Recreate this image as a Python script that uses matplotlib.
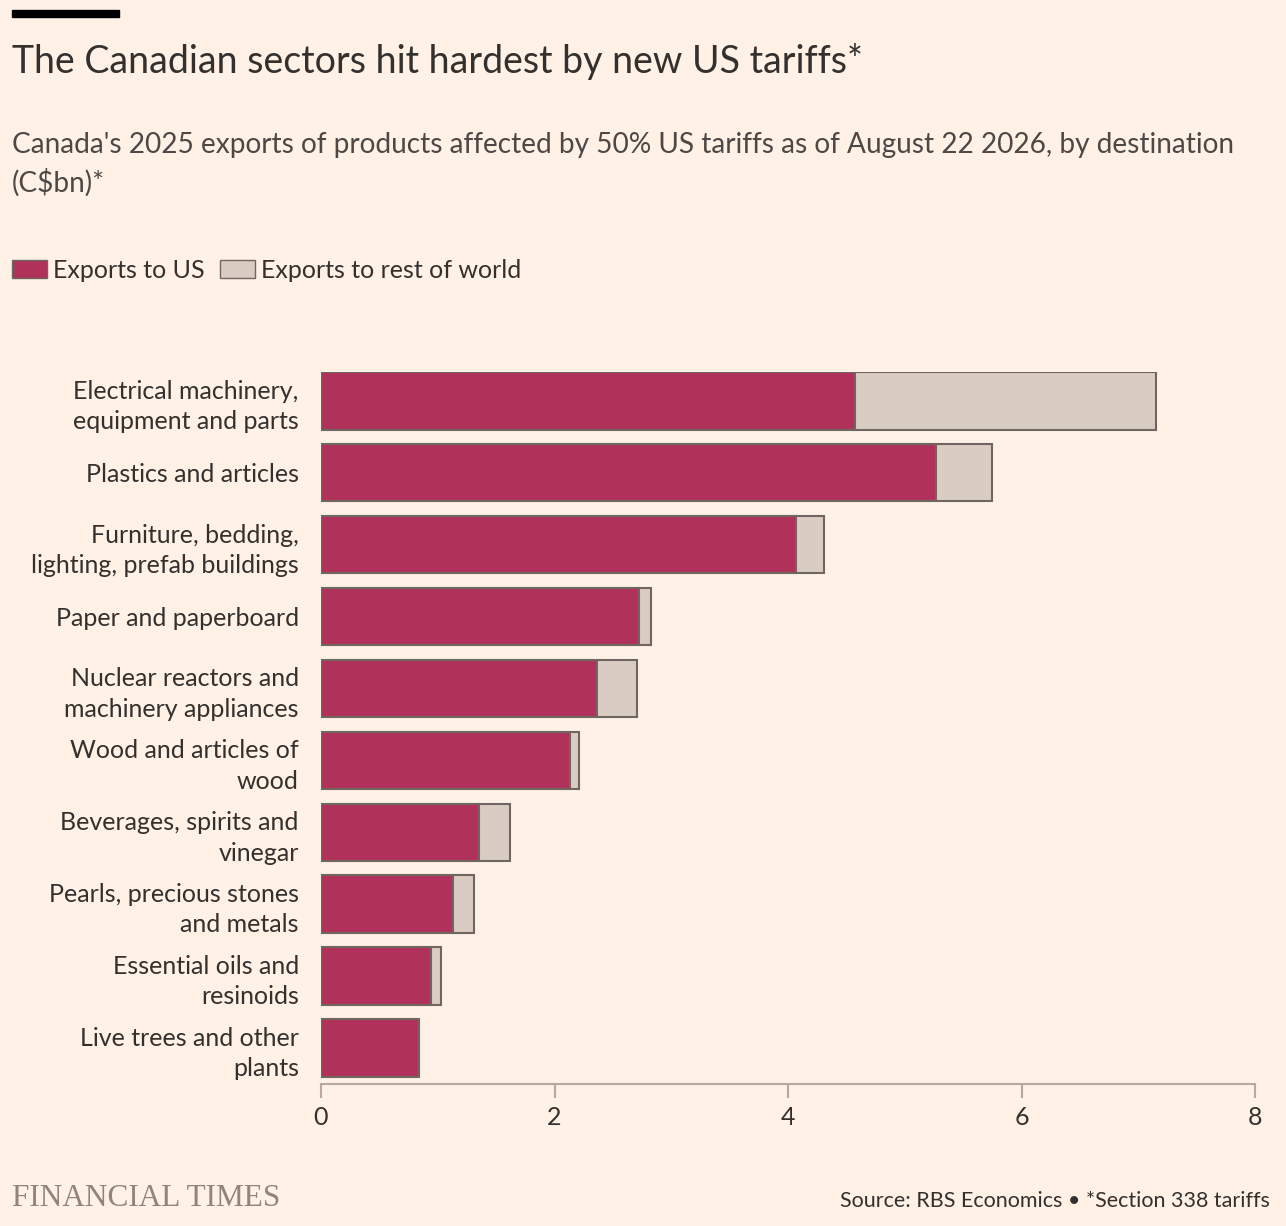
import matplotlib.pyplot as plt
from matplotlib.patches import Patch, Rectangle

# data (C$bn)
sectors = ["Electrical machinery,\nequipment and parts",
           "Plastics and articles",
           "Furniture, bedding,\nlighting, prefab buildings",
           "Paper and paperboard",
           "Nuclear reactors and\nmachinery appliances",
           "Wood and articles of\nwood",
           "Beverages, spirits and\nvinegar",
           "Pearls, precious stones\nand metals",
           "Essential oils and\nresinoids",
           "Live trees and other\nplants"]
to_us = [4.57, 5.27, 4.07, 2.72, 2.36, 2.13, 1.35, 1.13, 0.94, 0.84]
to_rest = [2.58, 0.48, 0.24, 0.11, 0.35, 0.08, 0.27, 0.18, 0.09, 0.0]
ticks = [0, 2, 4, 6, 8]

BG = "#fff1e5"
US_COL = "#b0325a"
ROW_COL = "#d9ccc3"
EDGE = "#6f6661"
TXT = "#33302e"
W, H = 1286, 1226

plt.rcParams["font.family"] = ["Lato", "DejaVu Sans"]

fig = plt.figure(figsize=(W / 100, H / 100), dpi=100, facecolor=BG)


def fx(x):
    return x / W


def fy(y):
    return 1 - y / H


ax = fig.add_axes([fx(321), fy(1084), fx(1255) - fx(321), fy(372) - fy(1084)])
ax.set_facecolor(BG)

ypos = list(range(len(sectors)))
ax.barh(ypos, to_us, height=0.8, color=US_COL, edgecolor=EDGE, linewidth=1.5)
ax.barh(ypos, to_rest, left=to_us, height=0.8, color=ROW_COL, edgecolor=EDGE, linewidth=1.5)

ax.set_xlim(0, 8)
ax.set_ylim(9.5, -0.4)
ax.set_xticks(ticks)
ax.set_xticklabels([str(t) for t in ticks])
ax.set_yticks(ypos)
ax.set_yticklabels(sectors, linespacing=1.38)

for s in ["top", "right", "left"]:
    ax.spines[s].set_visible(False)
ax.spines["bottom"].set_color("#b3aaa3")
ax.spines["bottom"].set_linewidth(1.5)
ax.tick_params(axis="y", length=0, pad=16, labelsize=18, labelcolor=TXT)
ax.tick_params(axis="x", length=10, width=1.5, color="#b3aaa3", pad=6,
               labelsize=18, labelcolor=TXT)
for lab in ax.get_yticklabels():
    lab.set_horizontalalignment("right")

# top black bar
fig.patches.append(Rectangle((fx(12), fy(17)), fx(119) - fx(12), fy(10) - fy(17),
                             transform=fig.transFigure, color="black", zorder=5))

fig.text(fx(12), fy(62), "The Canadian sectors hit hardest by new US tariffs*",
         fontsize=27, color=TXT, va="center", ha="left")
fig.text(fx(12), fy(164),
         "Canada's 2025 exports of products affected by 50% US tariffs as of August 22 2026, by destination\n(C$bn)*",
         fontsize=20.2, color="#4d4845", va="center", ha="left", linespacing=1.45)

handles = [Patch(facecolor=US_COL, edgecolor=EDGE, linewidth=1, label="Exports to US"),
           Patch(facecolor=ROW_COL, edgecolor=EDGE, linewidth=1, label="Exports to rest of world")]
fig.legend(handles=handles, loc="center left", bbox_to_anchor=(fx(12), fy(270)),
           ncol=2, frameon=False, fontsize=18, labelcolor=TXT, handlelength=1.4,
           handleheight=0.75, handletextpad=0.25, columnspacing=0.6,
           borderpad=0, borderaxespad=0)

fig.text(fx(12), fy(1198), "FINANCIAL TIMES", family="Liberation Serif", fontsize=22.5,
         color="#8f857d", va="center", ha="left")
fig.text(fx(1270), fy(1201), "Source: RBS Economics \u2022 *Section 338 tariffs",
         fontsize=15.5, color=TXT, va="center", ha="right")

fig.savefig("out.png", dpi=100, facecolor=BG)
